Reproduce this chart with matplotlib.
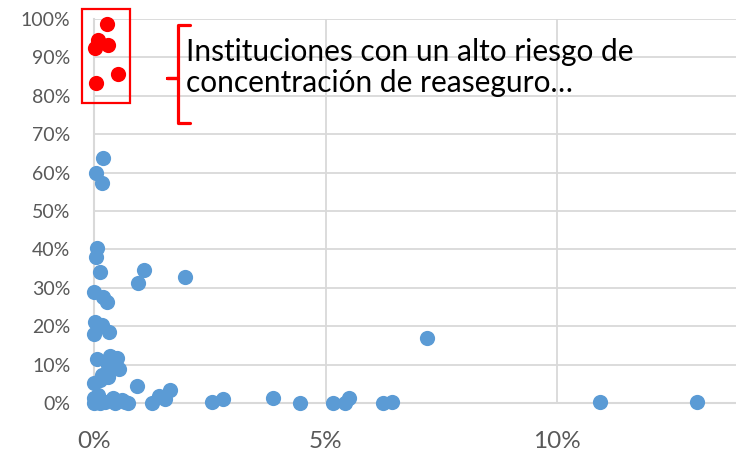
import numpy as np
import matplotlib
matplotlib.use("Agg")
import matplotlib.pyplot as plt
from matplotlib.ticker import PercentFormatter, FixedLocator

plt.rcParams["font.family"] = ["Lato", "DejaVu Sans"]

# share of market (x) vs reinsurance concentration (y), in %
blue_x = [0.20, 0.04, 0.17, 0.06, 0.04, 0.13, 1.07, 1.97,
          0.96, 0.00, 0.20, 0.27, 0.02, 0.17, 0.00, 0.32,
          0.06, 0.35, 0.49, 0.55, 0.00, 0.13, 0.31, 0.92,
          0.67, 1.25, 1.40, 1.53, 1.64, 2.54, 2.79, 3.86,
          4.46, 5.16, 5.42, 5.51, 6.25, 6.43, 7.19, 10.93, 13.02,
          0.31, 0.17, 0.00, 0.09, 0.24, 0.42, 0.60, 0.74, 0.00, 0.13, 0.45]
blue_y = [63.7, 60.0, 57.4, 40.3, 37.9, 34.2, 34.6, 32.9,
          31.2, 29.0, 27.7, 26.2, 21.2, 20.3, 17.9, 18.4,
          11.4, 12.2, 11.6, 8.9, 5.1, 6.0, 6.9, 4.5,
          0.3, 0.1, 1.8, 1.0, 3.4, 0.3, 1.0, 1.2,
          0.0, 0.0, 0.1, 1.4, 0.0, 0.2, 16.8, 0.2, 0.2,
          9.9, 7.3, 1.2, 2.1, 0.3, 1.2, 0.8, 0.0, 0.0, 0.0, 0.0]

red_x = [0.29, 0.09, 0.02, 0.31, 0.52, 0.04]
red_y = [98.7, 94.5, 92.5, 93.2, 85.7, 83.3]

y_ticks = [0, 10, 20, 30, 40, 50, 60, 70, 80, 90, 100]
x_ticks = [0, 5, 10]
note = "Instituciones con un alto riesgo de\nconcentración de reaseguro…"

fig = plt.figure(figsize=(7.36, 4.54), dpi=100)
ax = fig.add_axes([94 / 736, 51 / 454, 642 / 736, 384 / 454])

grid_c = "#D9D9D9"
ax.scatter(blue_x, blue_y, s=120, color="#5B9BD5", zorder=3, linewidths=0, clip_on=False)
ax.scatter(red_x, red_y, s=120, color="#FF0000", zorder=3, linewidths=0, clip_on=False)

ax.set_xlim(0, 642 / 46.3)
ax.set_ylim(0, 100)
ax.xaxis.set_major_locator(FixedLocator(x_ticks))
ax.yaxis.set_major_locator(FixedLocator(y_ticks))
ax.xaxis.set_major_formatter(PercentFormatter(decimals=0))
ax.yaxis.set_major_formatter(PercentFormatter(decimals=0))
ax.grid(True, color=grid_c, lw=1.3, zorder=0)
for s in ["top", "right"]:
    ax.spines[s].set_visible(False)
for s in ["left", "bottom"]:
    ax.spines[s].set_color(grid_c)
    ax.spines[s].set_linewidth(1.5)
ax.tick_params(length=0)
ax.tick_params(axis="y", labelsize=14, labelcolor="#595959", pad=17)
ax.tick_params(axis="x", labelsize=17.5, labelcolor="#595959", pad=20)

# red box around the high-concentration group
ax.add_patch(plt.Rectangle((-0.25, 78.0), 1.03, 24.6, fill=False,
                           edgecolor="#FF0000", lw=1.6, clip_on=False, zorder=4))

# curly bracket
bx, hook, nub = 1.81, 2.07, 1.58
ytop, ybot, ymid = 98.4, 72.9, 84.6
ax.plot([hook, bx, bx, nub, bx, bx, hook],
        [ytop, ytop, ymid, ymid, ymid, ybot, ybot],
        color="#FF0000", lw=2.3, solid_joinstyle="round",
        solid_capstyle="round", clip_on=False, zorder=4)

# va="baseline" anchors the last line of the note
ax.text(1.99, 81.0, note, fontsize=21.5, color="black", va="baseline",
        ha="left", linespacing=1.15, zorder=5)

fig.savefig("out.png", dpi=100)
